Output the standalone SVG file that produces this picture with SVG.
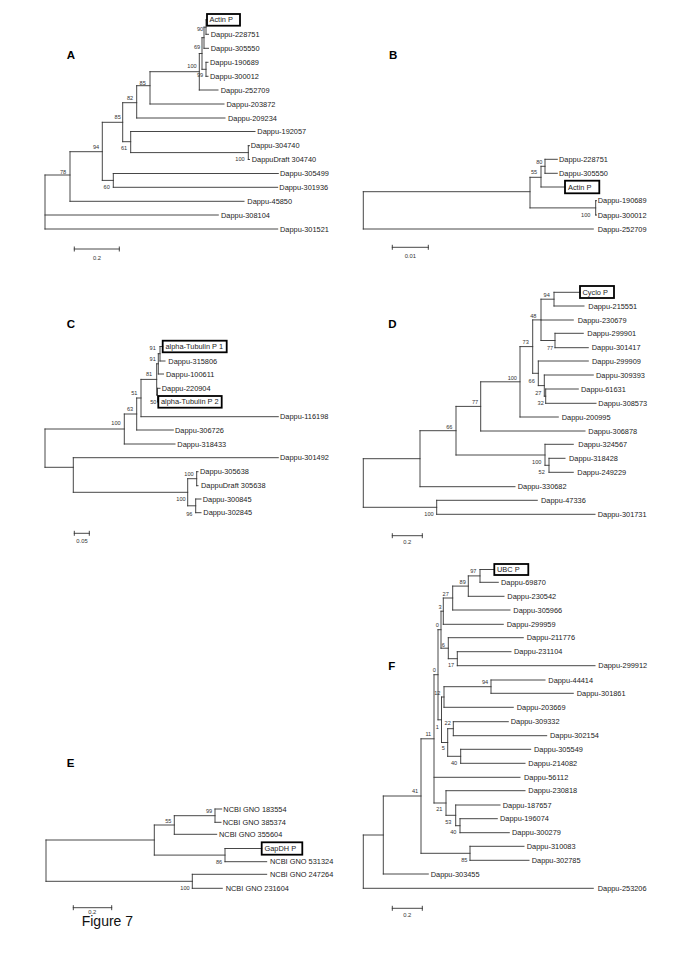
<svg xmlns="http://www.w3.org/2000/svg" width="685" height="969" viewBox="0 0 685 969">
<style>
.l{stroke:#333;stroke-width:0.9;fill:none;stroke-linecap:square}
.t{font-family:"Liberation Sans",Arial,sans-serif;font-size:7.4px;fill:#222}
.b{font-family:"Liberation Sans",Arial,sans-serif;font-size:5.6px;fill:#333;text-anchor:middle}
.p{font-family:"Liberation Sans",Arial,sans-serif;font-size:11.5px;font-weight:bold;fill:#000}
.s{font-family:"Liberation Sans",Arial,sans-serif;font-size:5.8px;fill:#333;text-anchor:middle}
.box{fill:none;stroke:#000;stroke-width:1.8}
</style>
<rect width="685" height="969" fill="#fff"/>
<g id="connectors">
<path id="treeA" class="l" d="M45,175V229 M45,175H70 M45,215H218.3 M45,229H277.7 M70,151.7V201.3 M70,201.3H244 M70,151.7H102.3 M102.3,122.3V180.4 M102.3,180.4H113.3 M102.3,122.3H122.7 M113.3,173.5V187.3 M113.3,173.5H278.3 M113.3,187.3H277.7 M122.7,102.7V141.7 M122.7,102.7H136.7 M122.7,141.7H130.7 M130.7,131.5V152.6 M130.7,131.5H255 M130.7,152.6H248.3 M248.3,145.7V159.5 M248.3,145.7H249.5 M248.3,159.5H249.5 M136.7,85.7V118 M136.7,118H225 M136.7,85.7H150 M150,71.7V104 M150,104H224 M150,71.7H199.3 M199.3,53.5V90 M199.3,90H218 M199.3,53.5H202 M202,37.7V69.3 M202,37.7H204 M202,69.3H206 M206,62.3V76.3 M206,62.3H208 M206,76.3H208 M204,27.2V48.3 M204,27.2H206 M204,48.3H208.5 M206,19.8V34.3 M206,19.8H207 M206,34.3H208.5"/>
<path id="treeB" class="l" d="M363.3,191.7V229 M363.3,191.7H530 M363.3,229H593.3 M530,177.3V207.9 M530,207.9H595.7 M530,177.3H541 M595.7,200.7V215 M595.7,200.7H596.5 M595.7,215H596.5 M541,166.3V187 M541,166.3H545 M541,187H565 M545,159.3V173.3 M545,159.3H557.3 M545,173.3H557.3"/>
<path id="treeC" class="l" d="M160,346.5V361 M160,346.5H162.7 M160,361H165 M158.3,353.7V374 M158.3,353.7H160 M158.3,374H163.5 M157.5,388.3V401.8 M157.5,388.3H160 M157.5,401.8H158.3 M156.7,363.8V395 M156.7,363.8H158.3 M156.7,395H157.5 M141,379.4V416.7 M141,379.4H156.7 M141,416.7H278.3 M136.7,398V430 M136.7,398H141 M136.7,430H173.3 M124.3,414V444 M124.3,414H136.7 M124.3,444H175 M45,429V467.3 M45,429H124.3 M45,467.3H73.3 M73.3,457.7V492.3 M73.3,457.7H278.3 M73.3,492.3H187.7 M187.7,478.7V505.8 M187.7,478.7H196.7 M187.7,505.8H195.7 M196.7,471.7V485.7 M196.7,471.7H198 M196.7,485.7H198 M195.7,499V512.7 M195.7,499H201 M195.7,512.7H201"/>
<path id="treeD" class="l" d="M554,292.3V306 M554,292.3H580 M554,306H584 M541,299.2V340.5 M541,299.2H554 M541,320H573.3 M541,340.5H555 M555,333.3V347.7 M555,333.3H583.3 M555,347.7H588.3 M532.7,319.9V373.3 M532.7,319.9H541 M532.7,373.3H538.3 M538.3,361V385.6 M538.3,361H588.3 M538.3,385.6H544.3 M544.3,375V396.2 M544.3,375H593.3 M544.3,396.2H545.7 M545.7,389V403.3 M545.7,389H578.3 M545.7,403.3H596 M520,346.6V417 M520,346.6H532.7 M520,417H558.3 M480.7,381.8V431 M480.7,381.8H520 M480.7,431H585 M456,406.4V455 M456,406.4H480.7 M456,455H545 M545,444.3V465.3 M545,444.3H573.3 M545,465.3H549 M549,458.3V472.3 M549,458.3H565 M549,472.3H573.3 M420,430.7V486.7 M420,430.7H456 M420,486.7H515 M436.7,500.3V514.3 M436.7,500.3H537.3 M436.7,514.3H595 M363.3,458.7V507.3 M363.3,458.7H420 M363.3,507.3H436.7"/>
<path id="treeE" class="l" d="M215,809V822.3 M215,809H221.7 M215,822.3H221 M174.3,815.7V834.3 M174.3,815.7H215 M174.3,834.3H216.7 M225,848.5V861.7 M225,848.5H261.7 M225,861.7H266.7 M154.3,825V855.1 M154.3,825H174.3 M154.3,855.1H225 M192.3,874.3V888.3 M192.3,874.3H266.7 M192.3,888.3H222.3 M46,840V881.3 M46,840H154.3 M46,881.3H192.3"/>
<path id="treeF" class="l" d="M480,569.5V582.3 M480,569.5H494.3 M480,582.3H498.3 M468.3,575.9V596.3 M468.3,575.9H480 M468.3,596.3H504 M452.7,586.1V610 M452.7,586.1H468.3 M452.7,610H510 M443.3,598V624.3 M443.3,598H452.7 M443.3,624.3H503.3 M457.3,651.7V665.7 M457.3,651.7H511 M457.3,665.7H595 M448.3,637.7V658.7 M448.3,637.7H523.3 M448.3,658.7H457.3 M441,611.2V648.2 M441,611.2H443.3 M441,648.2H448.3 M491,680V693.3 M491,680H545 M491,693.3H573.3 M444,686.7V707.3 M444,686.7H491 M444,707.3H513.3 M453.3,721.7V735.7 M453.3,721.7H508.3 M453.3,735.7H546.7 M460.7,749.3V763.3 M460.7,749.3H530.7 M460.7,763.3H525 M447.7,728.7V756.3 M447.7,728.7H453.3 M447.7,756.3H460.7 M441.5,697V742.5 M441.5,697H444 M441.5,742.5H447.7 M438,629.7V719.8 M438,629.7H441 M438,719.8H441.5 M460,818.7V832.7 M460,818.7H497.3 M460,832.7H509.3 M455.7,805V825.7 M455.7,805H500 M455.7,825.7H460 M446,790.7V815.3 M446,790.7H525 M446,815.3H455.7 M434,674.7V803 M434,674.7H438 M434,777.3H520 M434,803H446 M470,846.3V860.3 M470,846.3H524 M470,860.3H529 M421,738.8V853.3 M421,738.8H434 M421,853.3H470 M383.3,796V874 M383.3,796H421 M383.3,874H428.3 M363.3,835V888.3 M363.3,835H383.3 M363.3,888.3H593.3"/>
<path id="scales" class="l" d="M74.3,249H119.3 M74.3,247V251 M119.3,247V251 M392.3,247.3H428.3 M392.3,245.3V249.3 M428.3,245.3V249.3 M74.3,533.3H89.3 M74.3,531.3V535.3 M89.3,531.3V535.3 M392.3,535.7H422.3 M392.3,533.7V537.7 M422.3,533.7V537.7 M73.3,907.7H111.7 M73.3,905.7V909.7 M111.7,905.7V909.7 M392.3,908.3H422.3 M392.3,906.3V910.3 M422.3,906.3V910.3"/>
</g>
<g id="panel-labels">
<text class="p" x="66.7" y="59">A</text>
<text class="p" x="389" y="59">B</text>
<text class="p" x="66.7" y="328">C</text>
<text class="p" x="388.3" y="328.3">D</text>
<text class="p" x="66.7" y="767">E</text>
<text class="p" x="388.3" y="670">F</text>
</g>
<g id="scale-labels">
<text class="s" x="97" y="259.5">0.2</text>
<text class="s" x="410.3" y="258">0.01</text>
<text class="s" x="82" y="543">0.05</text>
<text class="s" x="407.3" y="544.3">0.2</text>
<text class="s" x="92.3" y="914">0.2</text>
<text class="s" x="407.3" y="917">0.2</text>
</g>
<g id="panelA">
<g id="A-actinP"><rect class="box" x="207" y="14" width="33" height="11.7"/><text class="t" x="209.5" y="22.4">Actin P</text></g>
<g id="A-228751"><text class="t" x="210.7" y="36.9">Dappu-228751</text></g>
<g id="A-305550"><text class="t" x="210.7" y="50.9">Dappu-305550</text></g>
<g id="A-190689"><text class="t" x="210" y="64.9">Dappu-190689</text></g>
<g id="A-300012"><text class="t" x="210" y="78.9">Dappu-300012</text></g>
<g id="A-252709"><text class="t" x="220.7" y="92.6">Dappu-252709</text></g>
<g id="A-203872"><text class="t" x="226.5" y="106.6">Dappu-203872</text></g>
<g id="A-209234"><text class="t" x="228" y="120.6">Dappu-209234</text></g>
<g id="A-192057"><text class="t" x="257.3" y="134.1">Dappu-192057</text></g>
<g id="A-304740"><text class="t" x="250.7" y="148.3">Dappu-304740</text></g>
<g id="A-d304740"><text class="t" x="251.7" y="162.1">DappuDraft 304740</text></g>
<g id="A-305499"><text class="t" x="280" y="176.1">Dappu-305499</text></g>
<g id="A-301936"><text class="t" x="279.3" y="189.9">Dappu-301936</text></g>
<g id="A-45850"><text class="t" x="247.3" y="203.9">Dappu-45850</text></g>
<g id="A-308104"><text class="t" x="221" y="217.6">Dappu-308104</text></g>
<g id="A-301521"><text class="t" x="280" y="231.6">Dappu-301521</text></g>
<g id="A-bootstrap">
<text class="b" x="200" y="31.3">90</text><text class="b" x="197" y="49.3">69</text><text class="b" x="192" y="68">100</text><text class="b" x="200" y="77.3">99</text>
<text class="b" x="142.7" y="84.7">85</text><text class="b" x="130" y="100.3">82</text><text class="b" x="117.7" y="119.3">85</text><text class="b" x="96" y="148.7">94</text>
<text class="b" x="124" y="150.3">61</text><text class="b" x="240" y="161.3">100</text><text class="b" x="63" y="173.7">78</text><text class="b" x="106.7" y="189">60</text>
</g>
</g>
<g id="panelB">
<g id="B-228751"><text class="t" x="559" y="161.9">Dappu-228751</text></g>
<g id="B-305550"><text class="t" x="559" y="175.9">Dappu-305550</text></g>
<g id="B-actinP"><rect class="box" x="565" y="180.7" width="34.3" height="12.6"/><text class="t" x="568" y="189.6">Actin P</text></g>
<g id="B-190689"><text class="t" x="597.7" y="203.3">Dappu-190689</text></g>
<g id="B-300012"><text class="t" x="597.7" y="217.6">Dappu-300012</text></g>
<g id="B-252709"><text class="t" x="597.7" y="231.6">Dappu-252709</text></g>
<g id="B-bootstrap"><text class="b" x="539.3" y="163.7">80</text><text class="b" x="534" y="173.7">55</text><text class="b" x="585.7" y="217">100</text></g>
</g>
<g id="panelC">
<g id="C-tub1"><rect class="box" x="162.7" y="340.7" width="64" height="11.6"/><text class="t" x="165.5" y="349.1">alpha-Tubulin P 1</text></g>
<g id="C-315806"><text class="t" x="168.3" y="363.6">Dappu-315806</text></g>
<g id="C-100611"><text class="t" x="166" y="376.6">Dappu-100611</text></g>
<g id="C-220904"><text class="t" x="161.7" y="390.9">Dappu-220904</text></g>
<g id="C-tub2"><rect class="box" x="158.3" y="396" width="63.4" height="11.7"/><text class="t" x="161" y="404.4">alpha-Tubulin P 2</text></g>
<g id="C-116198"><text class="t" x="280" y="419.3">Dappu-116198</text></g>
<g id="C-306726"><text class="t" x="175" y="432.6">Dappu-306726</text></g>
<g id="C-318433"><text class="t" x="177.3" y="446.6">Dappu-318433</text></g>
<g id="C-301492"><text class="t" x="280" y="460.3">Dappu-301492</text></g>
<g id="C-305638"><text class="t" x="200" y="474.3">Dappu-305638</text></g>
<g id="C-d305638"><text class="t" x="201" y="488.3">DappuDraft 305638</text></g>
<g id="C-300845"><text class="t" x="202.7" y="501.6">Dappu-300845</text></g>
<g id="C-302845"><text class="t" x="203.3" y="515.3">Dappu-302845</text></g>
<g id="C-bootstrap">
<text class="b" x="152.7" y="350.3">91</text><text class="b" x="152.7" y="361.3">91</text><text class="b" x="149" y="376">81</text><text class="b" x="153.3" y="403.7">50</text>
<text class="b" x="134.3" y="395.3">51</text><text class="b" x="130" y="411.3">63</text><text class="b" x="116" y="425.3">100</text><text class="b" x="189" y="476">100</text>
<text class="b" x="181" y="501">100</text><text class="b" x="189.3" y="516">96</text>
</g>
</g>
<g id="panelD">
<g id="D-cycloP"><rect class="box" x="580" y="286" width="34" height="12"/><text class="t" x="582.5" y="294.6">Cyclo P</text></g>
<g id="D-215551"><text class="t" x="588.3" y="308.6">Dappu-215551</text></g>
<g id="D-230679"><text class="t" x="577.7" y="322.6">Dappu-230679</text></g>
<g id="D-299901"><text class="t" x="587.3" y="335.9">Dappu-299901</text></g>
<g id="D-301417"><text class="t" x="591.7" y="350.3">Dappu-301417</text></g>
<g id="D-299909"><text class="t" x="592" y="363.6">Dappu-299909</text></g>
<g id="D-309393"><text class="t" x="596" y="377.6">Dappu-309393</text></g>
<g id="D-61631"><text class="t" x="581" y="391.6">Dappu-61631</text></g>
<g id="D-308573"><text class="t" x="598.3" y="405.9">Dappu-308573</text></g>
<g id="D-200995"><text class="t" x="561.7" y="419.6">Dappu-200995</text></g>
<g id="D-306878"><text class="t" x="588.3" y="433.6">Dappu-306878</text></g>
<g id="D-324567"><text class="t" x="578.3" y="446.9">Dappu-324567</text></g>
<g id="D-318428"><text class="t" x="569" y="460.9">Dappu-318428</text></g>
<g id="D-249229"><text class="t" x="577.3" y="474.9">Dappu-249229</text></g>
<g id="D-330682"><text class="t" x="517.7" y="489.3">Dappu-330682</text></g>
<g id="D-47336"><text class="t" x="541" y="502.9">Dappu-47336</text></g>
<g id="D-301731"><text class="t" x="597.7" y="516.9">Dappu-301731</text></g>
<g id="D-bootstrap">
<text class="b" x="546.7" y="297">94</text><text class="b" x="533.3" y="317.7">48</text><text class="b" x="550" y="349.7">77</text><text class="b" x="525.7" y="343.7">73</text>
<text class="b" x="512.3" y="379.7">100</text><text class="b" x="531.7" y="383">66</text><text class="b" x="538.3" y="394.7">27</text><text class="b" x="540.7" y="405.3">32</text>
<text class="b" x="475" y="403.7">77</text><text class="b" x="449.3" y="428.7">66</text><text class="b" x="536.7" y="463.7">100</text><text class="b" x="541.7" y="474.3">52</text>
<text class="b" x="429" y="516.3">100</text>
</g>
</g>
<g id="panelE">
<g id="E-183554"><text class="t" x="223.3" y="811.6">NCBI GNO 183554</text></g>
<g id="E-385374"><text class="t" x="222.7" y="824.9">NCBI GNO 385374</text></g>
<g id="E-355604"><text class="t" x="219" y="836.9">NCBI GNO 355604</text></g>
<g id="E-gapdhP"><rect class="box" x="261.7" y="842.3" width="40.6" height="12.4"/><text class="t" x="264.5" y="851.1">GapDH P</text></g>
<g id="E-531324"><text class="t" x="270" y="864.3">NCBI GNO 531324</text></g>
<g id="E-247264"><text class="t" x="270" y="876.9">NCBI GNO 247264</text></g>
<g id="E-231604"><text class="t" x="225.7" y="890.9">NCBI GNO 231604</text></g>
<g id="E-bootstrap"><text class="b" x="209" y="812.7">99</text><text class="b" x="168.3" y="822.7">55</text><text class="b" x="219" y="864.3">86</text><text class="b" x="185" y="889.7">100</text></g>
</g>
<g id="panelF">
<g id="F-ubcP"><rect class="box" x="494.3" y="564" width="34" height="11"/><text class="t" x="497" y="572.1">UBC P</text></g>
<g id="F-69870"><text class="t" x="501" y="584.9">Dappu-69870</text></g>
<g id="F-230542"><text class="t" x="507.3" y="598.9">Dappu-230542</text></g>
<g id="F-305966"><text class="t" x="513.3" y="612.6">Dappu-305966</text></g>
<g id="F-299959"><text class="t" x="506.7" y="626.9">Dappu-299959</text></g>
<g id="F-211776"><text class="t" x="526.7" y="640.3">Dappu-211776</text></g>
<g id="F-231104"><text class="t" x="514" y="654.3">Dappu-231104</text></g>
<g id="F-299912"><text class="t" x="598.3" y="668.3">Dappu-299912</text></g>
<g id="F-44414"><text class="t" x="548.3" y="682.6">Dappu-44414</text></g>
<g id="F-301861"><text class="t" x="576.7" y="695.9">Dappu-301861</text></g>
<g id="F-203669"><text class="t" x="516.7" y="709.9">Dappu-203669</text></g>
<g id="F-309332"><text class="t" x="510.7" y="724.3">Dappu-309332</text></g>
<g id="F-302154"><text class="t" x="550" y="738.3">Dappu-302154</text></g>
<g id="F-305549"><text class="t" x="534" y="751.9">Dappu-305549</text></g>
<g id="F-214082"><text class="t" x="528.3" y="765.9">Dappu-214082</text></g>
<g id="F-56112"><text class="t" x="524" y="779.9">Dappu-56112</text></g>
<g id="F-230818"><text class="t" x="528.3" y="793.3">Dappu-230818</text></g>
<g id="F-187657"><text class="t" x="502.7" y="807.6">Dappu-187657</text></g>
<g id="F-196074"><text class="t" x="500" y="821.3">Dappu-196074</text></g>
<g id="F-300279"><text class="t" x="512" y="835.3">Dappu-300279</text></g>
<g id="F-310083"><text class="t" x="526.7" y="848.9">Dappu-310083</text></g>
<g id="F-302785"><text class="t" x="531.7" y="862.9">Dappu-302785</text></g>
<g id="F-303455"><text class="t" x="430.7" y="876.6">Dappu-303455</text></g>
<g id="F-253206"><text class="t" x="597.7" y="890.9">Dappu-253206</text></g>
<g id="F-bootstrap">
<text class="b" x="473.3" y="573">97</text><text class="b" x="462.7" y="584.3">89</text><text class="b" x="445.7" y="596">27</text><text class="b" x="440" y="608.7">3</text>
<text class="b" x="437.3" y="627">0</text><text class="b" x="443.3" y="647">6</text><text class="b" x="451" y="667">17</text><text class="b" x="434.3" y="672">0</text>
<text class="b" x="485" y="683.7">94</text><text class="b" x="437.3" y="695.3">12</text><text class="b" x="447.7" y="724.7">22</text><text class="b" x="437.3" y="728.7">1</text>
<text class="b" x="443.3" y="750.3">5</text><text class="b" x="454" y="765.3">40</text><text class="b" x="428.3" y="736">11</text><text class="b" x="415" y="792.7">41</text>
<text class="b" x="439.3" y="811.3">21</text><text class="b" x="448.3" y="823.7">53</text><text class="b" x="453.3" y="834.3">40</text><text class="b" x="464.3" y="862">85</text>
</g>
</g>
<g id="caption"><text x="81.7" y="925.5" font-family="Liberation Sans, Arial, sans-serif" font-size="14" fill="#111">Figure 7</text></g>
</svg>
